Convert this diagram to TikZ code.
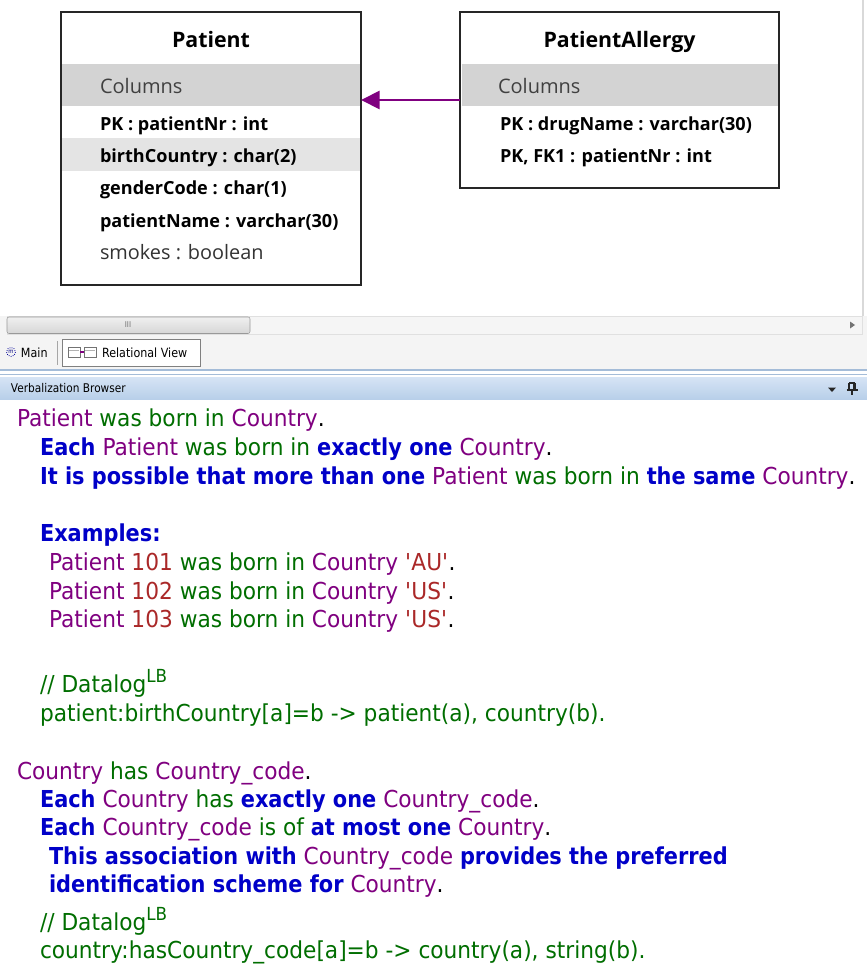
\documentclass[tikz,border=0pt]{standalone}
\usepackage{fontspec}
\usetikzlibrary{arrows.meta,fit}

% fonts: verbalization text (regular and keywords), small UI labels, table boxes
\newfontfamily\vbfont[FakeStretch=0.93]{DejaVu Sans}
\newfontfamily\vbkeyfont[FakeStretch=0.895]{DejaVu Sans}
\newfontfamily\uifont[FakeStretch=0.88]{DejaVu Sans}
\newfontfamily\boxfont{Open Sans}

% verbalization colours
\definecolor{otc}{RGB}{128,0,128}    % object types
\definecolor{vrc}{RGB}{0,110,0}      % predicate readings
\definecolor{kwc}{RGB}{0,0,200}      % quantifier keywords
\definecolor{vac}{RGB}{170,40,40}    % example values
% UI colours
\definecolor{bandgray}{RGB}{211,211,211}
\definecolor{rowgray}{RGB}{228,228,228}
\definecolor{relpurple}{RGB}{128,0,128}
\definecolor{stripgray}{RGB}{244,244,244}
\definecolor{barblueA}{RGB}{214,228,245}
\definecolor{barblueB}{RGB}{184,207,233}
\definecolor{lineblue}{RGB}{164,188,216}

\newcommand\vbOT[1]{\textcolor{otc}{#1}}
\newcommand\vbVerb[1]{\textcolor{vrc}{#1}}
\newcommand\vbKey[1]{\textcolor{kwc}{\vbkeyfont\bfseries #1}}
\newcommand\vbVal[1]{\textcolor{vac}{#1}}
\newcommand\vbLB{\raisebox{0.42em}{\fontsize{13.5pt}{14pt}\selectfont LB}}

\begin{document}
\begin{tikzpicture}[x=0.75pt,y=-0.75pt,
  txt/.style={anchor=base west,inner sep=0pt,outer sep=0pt},
  vb/.style={txt,font=\vbfont\fontsize{17.5pt}{21pt}\selectfont},
  title/.style={anchor=base,inner sep=0pt,font=\boxfont\bfseries\fontsize{16pt}{18pt}\selectfont},
  colhead/.style={txt,font=\boxfont\fontsize{15pt}{17pt}\selectfont,text=black!75},
  colrow/.style={txt,font=\boxfont\bfseries\fontsize{13.55pt}{16pt}\selectfont},
  colplain/.style={txt,font=\boxfont\fontsize{14.9pt}{16pt}\selectfont,text=black!80},
  tablebox/.style={draw=black!85,line width=1.5pt,inner sep=0pt,outer sep=0pt},
  ui/.style={txt,font=\uifont\fontsize{9pt}{10pt}\selectfont},
  fk/.style={draw=relpurple,line width=2.1pt,-{Triangle[length=14pt,width=13.5pt]}}]
\useasboundingbox (0,0) rectangle (867,964);
\fill[white] (0,0) rectangle (867,964);

% ---------- relational view canvas ----------
\draw[black!15,line width=1pt] (863,0) -- (863,316);

% Patient table
\fill[bandgray] (62,64) rectangle (360,106);
\fill[rowgray] (62,138) rectangle (360,171);
\node[tablebox,fit={(61,12) (361,285)}] (patient) {};
\node[title] (patientTitle) at (211,47) {Patient};
\node[colhead] (patientCols) at (100,93) {Columns};
\node[colrow] (pNr) at (100,130) {PK : patientNr : int};
\node[colrow] (pBirth) at (100,162.5) {birthCountry : char(2)};
\node[colrow] (pGender) at (100,194.5) {genderCode : char(1)};
\node[colrow] (pName) at (100,227) {patientName : varchar(30)};
\node[colplain] (pSmokes) at (100,259) {smokes : boolean};

% PatientAllergy table
\fill[bandgray] (462,64) rectangle (778,106);
\node[tablebox,fit={(460,12) (779,188)}] (allergy) {};
\node[title] (allergyTitle) at (619.5,47) {PatientAllergy};
\node[colhead] (allergyCols) at (498,93) {Columns};
\node[colrow] (aDrug) at (500,130) {PK : drugName : varchar(30)};
\node[colrow] (aNr) at (500,162) {PK, FK1 : patientNr : int};

% foreign key reference
\coordinate (fkLevel) at (0,100);
\draw[fk] (allergy.west |- fkLevel) -- (patient.east |- fkLevel);

% ---------- horizontal scroll bar ----------
\fill[stripgray] (0,316) rectangle (867,370);
\draw[black!12,fill=black!4] (7,316.5) rectangle (862,334);
\shade[top color=black!6,bottom color=black!16,draw=black!40,rounded corners=1.5pt]
  (7,317) rectangle (250,333.5);
\node[inner sep=0pt,font=\uifont\fontsize{6pt}{6pt}\selectfont,text=black!55] (grip) at (128,325) {III};
\fill[black!55] (850,321.5) -- (855,325) -- (850,328.5) -- cycle;

% ---------- document tabs ----------
% Main tab
\draw[blue!60!black,densely dotted,line width=0.6pt] (11,352) circle (4.5);
\node[inner sep=0pt,font=\uifont\fontsize{4.5pt}{5pt}\selectfont,text=blue!50!black] (mainIcon) at (11,352) {m};
\node[ui,font=\uifont\fontsize{9.5pt}{10pt}\selectfont] (mainTab) at (21,357) {Main};
\draw[black!35] (57.5,341) -- (57.5,365);
% Relational View tab
\draw[black!50,fill=white] (62.5,339.5) rectangle (200,366);
\draw[black!55,fill=white] (68,347) rectangle (80,357);
\draw[black!55,fill=white] (84,347) rectangle (96,357);
\draw[black!30] (69,350) -- (79,350) (85,350) -- (95,350);
\draw[relpurple,line width=0.8pt] (80,352) -- (84,352);
\node[ui,font=\uifont\fontsize{9.5pt}{10pt}\selectfont] (relTab) at (102,357) {Relational View};

% ---------- tool window caption ----------
\draw[lineblue,line width=1.2pt] (0,370) -- (867,370);
\draw[lineblue,line width=1.2pt] (0,374.5) -- (867,374.5);
\shade[top color=barblueA,bottom color=barblueB] (0,377) rectangle (867,399);
\node[ui] (vbCaption) at (11,392) {Verbalization Browser};
\fill[black!85] (828,387.5) -- (836,387.5) -- (832,392) -- cycle;
\draw[black!85,line width=0.8pt] (849,383) -- (849,390) (855,383) -- (855,390)
  (849,383) -- (855,383) (846.5,390) -- (857.5,390) (852,390) -- (852,395);
\draw[black!85,line width=1.2pt] (854,383.5) -- (854,389.5);

% ---------- verbalization text ----------
\node[vb] (v1) at (17,426) {\vbOT{Patient} \vbVerb{was born in} \vbOT{Country}.};
\node[vb] (v2) at (40,455) {\vbKey{Each} \vbOT{Patient} \vbVerb{was born in} \vbKey{exactly one} \vbOT{Country}.};
\node[vb] (v3) at (40,484) {\vbKey{It is possible that more than one} \vbOT{Patient} \vbVerb{was born in} \vbKey{the same} \vbOT{Country}.};
\node[vb] (v4) at (40,541) {\vbKey{Examples:}};
\node[vb] (v5) at (49,570) {\vbOT{Patient} \vbVal{101} \vbVerb{was born in} \vbOT{Country} \vbVal{\textquotesingle AU\textquotesingle}.};
\node[vb] (v6) at (49,599) {\vbOT{Patient} \vbVal{102} \vbVerb{was born in} \vbOT{Country} \vbVal{\textquotesingle US\textquotesingle}.};
\node[vb] (v7) at (49,627) {\vbOT{Patient} \vbVal{103} \vbVerb{was born in} \vbOT{Country} \vbVal{\textquotesingle US\textquotesingle}.};
\node[vb,text=vrc] (v8) at (40,692) {// Datalog\vbLB};
\node[vb,text=vrc] (v9) at (40,721) {patient:birthCountry[a]=b -> patient(a), country(b).};
\node[vb] (v10) at (17,779) {\vbOT{Country} \vbVerb{has} \vbOT{Country\_code}.};
\node[vb] (v11) at (40,807) {\vbKey{Each} \vbOT{Country} \vbVerb{has} \vbKey{exactly one} \vbOT{Country\_code}.};
\node[vb] (v12) at (40,835) {\vbKey{Each} \vbOT{Country\_code} \vbVerb{is of} \vbKey{at most one} \vbOT{Country}.};
\node[vb] (v13) at (49,864) {\vbKey{This association with} \vbOT{Country\_code} \vbKey{provides the preferred}};
\node[vb] (v14) at (49,892) {\vbKey{identification scheme for} \vbOT{Country}.};
\node[vb,text=vrc] (v15) at (40,930) {// Datalog\vbLB};
\node[vb,text=vrc] (v16) at (40,958) {country:hasCountry\_code[a]=b -> country(a), string(b).};
\end{tikzpicture}
\end{document}
